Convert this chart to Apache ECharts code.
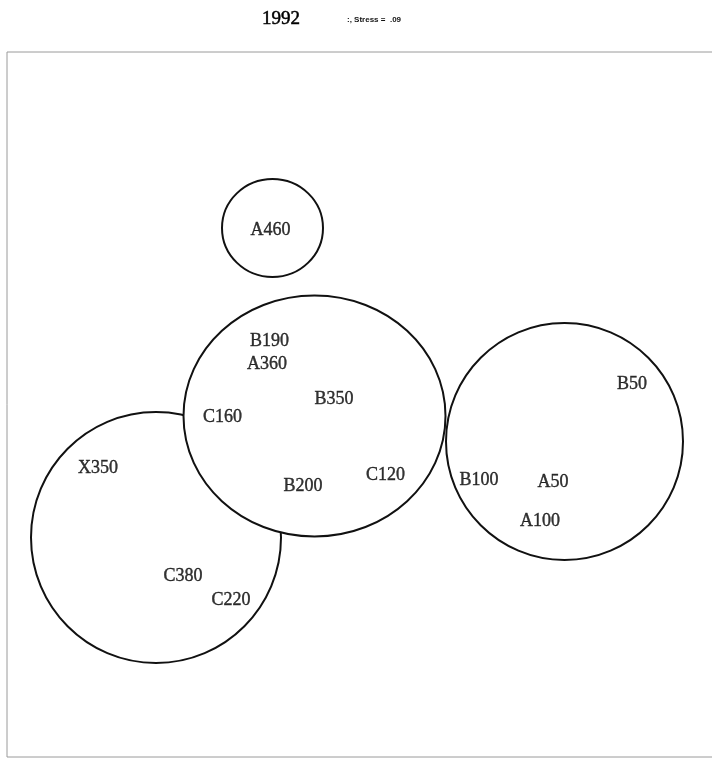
<!DOCTYPE html>
<html>
<head>
<meta charset="utf-8">
<script src="https://cdn.jsdelivr.net/npm/echarts@6/dist/echarts.min.js"></script>
<style>
html,body{margin:0;padding:0;background:#fff;}
#chart{width:712px;height:760px;}
</style>
</head>
<body>
<div id="chart"></div>
<script>
// Stimulus labels and their MDS configuration coordinates (plot units)
const labelNames = ['A460','B190','A360','B350','C160','C120','B200','X350','C380','C220','B50','B100','A50','A100'];
const labelX = [263.5, 262.5, 260, 327, 215.5, 378.5, 296, 91, 176, 224, 625, 472, 546, 533];
const labelY = [527, 416, 393, 357.5, 340, 282, 271, 289, 181, 157, 373, 277, 275, 236];

// Cluster circles, drawn in this order (later ones cover earlier ones):
// centre x, centre y, radius x, radius y (plot units)
const clusterCX = [149, 265.5, 307.5, 557.5];
const clusterCY = [219.5, 529, 341, 315.5];
const clusterRX = [125, 50.5, 131, 118.5];
const clusterRY = [125.5, 49, 120.5, 118.5];

const titleText = '1992';
const stressText = ':, Stress =  .09';

const labelData = labelNames.map((n, i) => ({ name: n, value: [labelX[i], labelY[i]] }));
const clusterData = clusterCX.map((c, i) => [c, clusterCY[i], clusterRX[i], clusterRY[i]]);

const chart = echarts.init(document.getElementById('chart'), null, { renderer: 'canvas' });
chart.setOption({
  backgroundColor: '#ffffff',
  animation: false,
  title: [
    { text: titleText, left: 262, top: 10, padding: 0,
      textStyle: { fontFamily: 'Liberation Serif', fontSize: 19, fontWeight: 'normal', color: '#000',
        textBorderColor: '#000', textBorderWidth: 0.5 } },
    { text: stressText, left: 347, top: 16, padding: 0,
      textStyle: { fontFamily: 'Liberation Sans', fontSize: 8, fontWeight: 'bold', color: '#111' } }
  ],
  grid: { left: 7, top: 52, width: 712, height: 705, show: true, borderColor: '#9a9a9a', borderWidth: 1,
    backgroundColor: 'transparent', outerBoundsMode: 'none', containLabel: false },
  xAxis: { type: 'value', min: 0, max: 712, show: false },
  yAxis: { type: 'value', min: 0, max: 705, show: false },
  series: [
    {
      type: 'custom',
      coordinateSystem: 'cartesian2d',
      data: clusterData,
      silent: true,
      clip: false,
      renderItem: function (params, api) {
        const c = api.coord([api.value(0), api.value(1)]);
        const s = api.size([api.value(2), api.value(3)]);
        return {
          type: 'ellipse',
          shape: { cx: c[0], cy: c[1], rx: s[0], ry: s[1] },
          style: { fill: '#fff', stroke: '#111', lineWidth: 2 }
        };
      }
    },
    {
      type: 'scatter',
      data: labelData,
      symbolSize: 0,
      silent: true,
      z: 5,
      label: {
        show: true,
        position: 'inside',
        formatter: '{b}',
        fontFamily: 'Liberation Serif',
        fontSize: 18,
        color: '#000',
        textBorderColor: '#000',
        textBorderWidth: 0.4
      }
    }
  ]
});
</script>
</body>
</html>
